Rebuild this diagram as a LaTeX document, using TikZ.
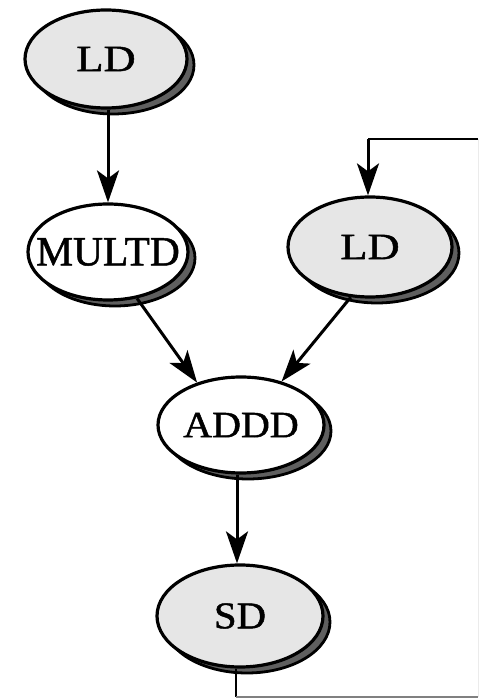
\documentclass[tikz,border=0pt]{standalone}
\usepackage{fontspec}
\setmainfont{Liberation Serif}
\newfontfamily\lblfont[FakeBold=1.2]{Liberation Serif}
\usetikzlibrary{arrows.meta,shadows,shapes.geometric}
\definecolor{nodegray}{RGB}{230,230,230}
\definecolor{shadowgray}{RGB}{95,95,95}
\begin{document}
\begin{tikzpicture}[x=1pt,y=1pt,
  opnode/.style={ellipse,draw=black,line width=3.2pt,inner sep=0pt,
    font=\lblfont\fontsize{37}{40}\selectfont,
    copy shadow={shadow xshift=7pt,shadow yshift=-6pt,fill=shadowgray,draw=black,line width=2.8pt}},
  grayop/.style={opnode,fill=nodegray},
  whiteop/.style={opnode,fill=white},
  conn/.style={line width=3pt,-{Stealth[length=32pt,width=22pt,inset=8pt]}},
  loopline/.style={line width=2.8pt}]
\useasboundingbox (0,0) rectangle (485,699);
\node[grayop,minimum width=162pt,minimum height=98pt] (ld1) at (106,640) {\makebox[0pt]{\raisebox{-3pt}{\scalebox{1.2}[1]{LD}}}};
\node[whiteop,minimum width=160pt,minimum height=96pt] (multd) at (108,447) {\makebox[0pt]{\scalebox{1.12}[1.12]{MULTD}}};
\node[grayop,minimum width=164pt,minimum height=100pt] (ld2) at (370,452) {\makebox[0pt]{\raisebox{-3pt}{\scalebox{1.2}[1]{LD}}}};
\node[whiteop,minimum width=166pt,minimum height=96pt] (addd) at (241,274) {\makebox[0pt]{\raisebox{-4pt}{\scalebox{1.08}[1]{ADDD}}}};
\node[grayop,minimum width=166pt,minimum height=102pt] (sd) at (240,83) {\makebox[0pt]{\raisebox{-3pt}{\scalebox{1.1}[1.02]{SD}}}};
\coordinate (c1) at (236,2);
\coordinate (c2) at (478,2);
\coordinate (c3) at (478,560);
\coordinate (c4) at (368,560);
\draw[conn] (ld1.south -| 108,0) -- (multd.north -| 108,0);
\draw[conn] (multd.-58) -- (addd.136);
\draw[conn] (ld2.-111) -- (addd.47);
\draw[conn] (addd.south -| 237,0) -- (sd.north -| 237,0);
\draw[loopline] (sd.south -| 236,0) -- (c1);
\draw[loopline,black!50] (c1) -- (c2);
\draw[line width=1pt,black!8] (c2) -- (c3);
\draw[loopline] (c3) -- (c4);
\draw[conn] (c4) -- (c4 |- ld2.north);
\end{tikzpicture}
\end{document}
